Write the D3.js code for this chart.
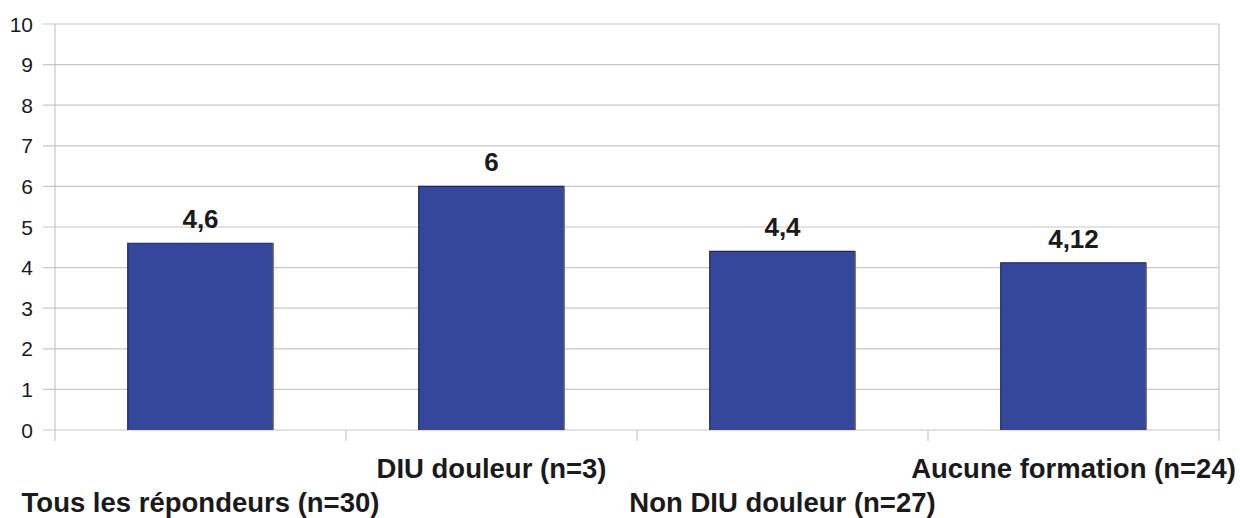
<html>
<script src="https://cdn.jsdelivr.net/npm/d3@7"></script>
<style>
  body { margin: 0; background: white; }
  text { font-family: "Liberation Sans", Arial, sans-serif; fill: #1a1a1a; }
</style>
<body>
<svg width="1240" height="518"></svg>
<script>
// data
const categories = ['Tous les répondeurs (n=30)', 'DIU douleur (n=3)', 'Non DIU douleur (n=27)', 'Aucune formation (n=24)'];
const values = [4.6, 6, 4.4, 4.12];
const valueLabels = ['4,6', '6', '4,4', '4,12'];
const yTicks = [0, 1, 2, 3, 4, 5, 6, 7, 8, 9, 10];

const svg = d3.select('svg');
const plotLeft = 55, plotRight = 1219, plotTop = 24, plotBottom = 430;

const xs = d3.scaleBand().domain(categories).range([plotLeft, plotRight]).paddingInner(0.5).paddingOuter(0.25);
const xb = d3.scaleBand().domain(categories).range([plotLeft, plotRight]);   // full bands for tick marks
const ys = d3.scaleLinear().domain([0, 10]).range([plotBottom, plotTop]);

// horizontal grid lines (start a bit left of the axis, like tick marks)
svg.append('g').selectAll('line')
  .data(yTicks)
  .enter().append('line')
    .attr('x1', plotLeft - 12).attr('x2', plotRight)
    .attr('y1', d => ys(d)).attr('y2', d => ys(d))
    .attr('stroke', '#c6c6c6').attr('stroke-width', 1.2);

// y tick labels
svg.append('g').selectAll('text')
  .data(yTicks)
  .enter().append('text')
    .attr('x', 33).attr('y', d => ys(d))
    .attr('dy', '0.36em')
    .attr('text-anchor', 'end')
    .style('font-size', '21px')
    .text(d => d);

// left axis + right border
svg.append('line').attr('x1', plotLeft).attr('x2', plotLeft).attr('y1', plotTop).attr('y2', plotBottom + 11)
  .attr('stroke', '#c6c6c6').attr('stroke-width', 1.2);
svg.append('line').attr('x1', plotRight).attr('x2', plotRight).attr('y1', plotTop).attr('y2', plotBottom + 11)
  .attr('stroke', '#c6c6c6').attr('stroke-width', 1.2);

// x category separator ticks
svg.append('g').selectAll('line')
  .data(categories.slice(1))
  .enter().append('line')
    .attr('x1', d => xb(d)).attr('x2', d => xb(d))
    .attr('y1', plotBottom).attr('y2', plotBottom + 11)
    .attr('stroke', '#c6c6c6').attr('stroke-width', 1.2);

// bars
const bars = svg.append('g').selectAll('g')
  .data(categories)
  .enter().append('g');

bars.append('rect')
  .attr('x', d => xs(d))
  .attr('y', (d, i) => ys(values[i]))
  .attr('width', xs.bandwidth())
  .attr('height', (d, i) => plotBottom - ys(values[i]))
  .attr('fill', '#34479c');

// darker top/left edge, grey right edge
bars.append('path')
  .attr('d', (d, i) => 'M' + xs(d) + ',' + plotBottom + 'V' + ys(values[i]) + 'H' + (xs(d) + xs.bandwidth()))
  .attr('fill', 'none').attr('stroke', '#1e2552').attr('stroke-width', 1.2);
bars.append('path')
  .attr('d', (d, i) => 'M' + (xs(d) + xs.bandwidth()) + ',' + ys(values[i]) + 'V' + plotBottom)
  .attr('fill', 'none').attr('stroke', '#6b6b6b').attr('stroke-width', 1.2);

// value labels
bars.append('text')
  .attr('x', d => xs(d) + xs.bandwidth() / 2)
  .attr('y', (d, i) => ys(values[i]) - 15)
  .attr('text-anchor', 'middle')
  .style('font-size', '26px').style('font-weight', 'bold')
  .text((d, i) => valueLabels[i]);

// staggered category labels
svg.append('g').selectAll('text')
  .data(categories)
  .enter().append('text')
    .attr('x', d => xs(d) + xs.bandwidth() / 2)
    .attr('y', (d, i) => i % 2 == 0 ? 512 : 478)
    .attr('text-anchor', 'middle')
    .style('font-size', '27.5px').style('font-weight', 'bold')
    .text(d => d);
</script>
</body>
</html>
